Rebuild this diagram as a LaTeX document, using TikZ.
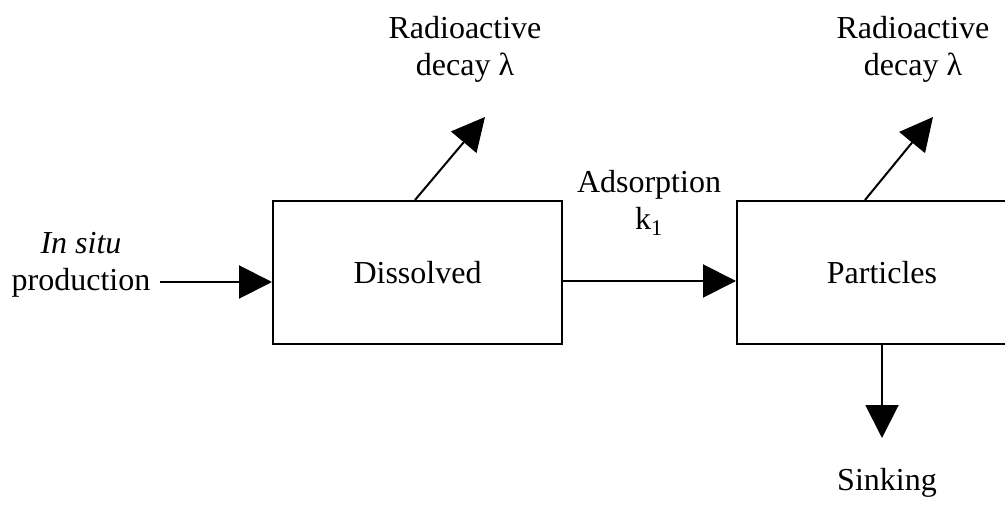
\documentclass[tikz,border=0pt]{standalone}
\usepackage{fontspec}
\setmainfont{Liberation Serif}
\usetikzlibrary{arrows.meta}
\begin{document}
\begin{tikzpicture}[x=1pt,y=-1pt,
  font=\fontsize{32}{37}\selectfont,
  box/.style={draw,line width=2pt,minimum width=289pt,minimum height=143pt,inner sep=0pt},
  lbl/.style={align=center,inner sep=0pt},
  arr/.style={line width=2pt,-{Triangle[length=33pt,width=33pt]}}]
\useasboundingbox (0,0) rectangle (1005,508);
\clip (0,0) rectangle (1005,508);
\node[box] (diss) at (417.5,272.5) {Dissolved};
\node[box,minimum width=290pt] (part) at (882,272.5) {Particles};
\node[lbl] (insitu) at (81,265) {\itshape In situ\\production};
\coordinate (instart) at (160,282);
\node[lbl] (decay1) at (465,49) {Radioactive\\decay λ};
\node[lbl] (decay2) at (913,49) {Radioactive\\decay λ};
\node[lbl] (ads) at (649,203) {Adsorption\\k\textsubscript{1}};
\node[lbl] (sink) at (887,483) {Sinking};
\coordinate (tip1) at (485,117);
\coordinate (tip2) at (933,117);
\coordinate (sinktip) at (882,438);
\draw[arr] (instart) -- (diss.west |- instart);
\draw[arr] ([yshift=-8.5pt]diss.east) -- ([yshift=-8.5pt]part.west);
\draw[arr] ([xshift=-2.5pt]diss.north) -- (tip1);
\draw[arr] ([xshift=-17pt]part.north) -- (tip2);
\draw[arr] (part.south) -- (sinktip);
\end{tikzpicture}
\end{document}
